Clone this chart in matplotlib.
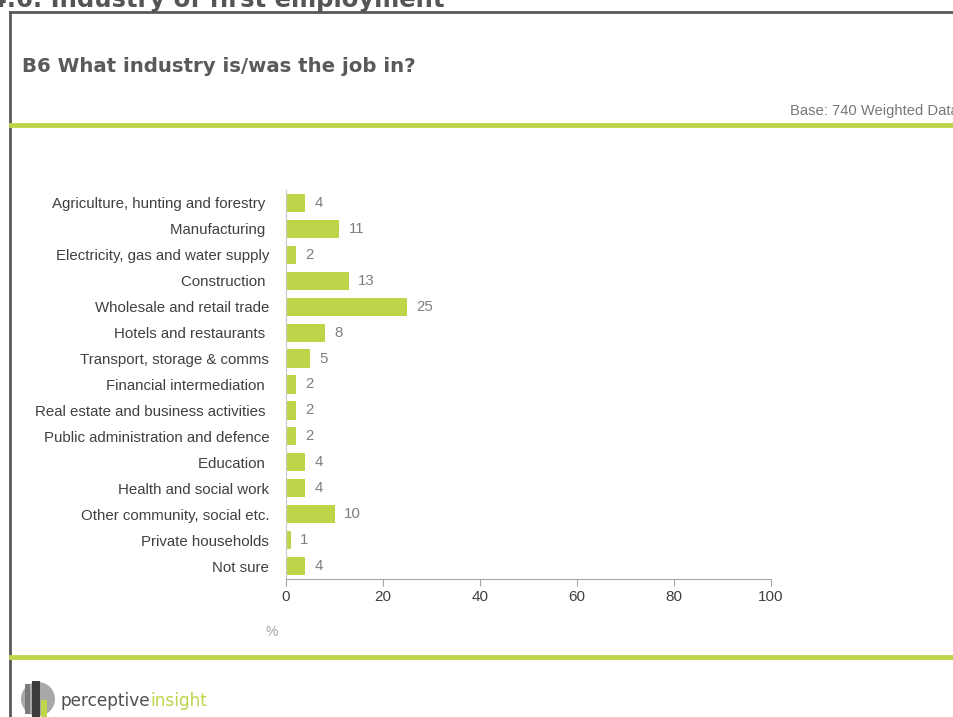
#industry of first employment - horizontal bar chart

import matplotlib.pyplot as plt
from matplotlib.patches import Ellipse, Rectangle
from matplotlib.lines import Line2D

#----------------------------------------------------------------------------------

industries = [
    "Agriculture, hunting and forestry ",
    "Manufacturing ",
    "Electricity, gas and water supply",
    "Construction ",
    "Wholesale and retail trade",
    "Hotels and restaurants ",
    "Transport, storage & comms",
    "Financial intermediation ",
    "Real estate and business activities ",
    "Public administration and defence",
    "Education ",
    "Health and social work",
    "Other community, social etc.",
    "Private households",
    "Not sure",
]
percent = [4, 11, 2, 13, 25, 8, 5, 2, 2, 2, 4, 4, 10, 1, 4]
x_ticks = [0, 20, 40, 60, 80, 100]

green = "#bdd549"
W, H = 954, 717

#pixel helpers (x from left, y from top)
def fx(px):
    return px / W

def fy(py):
    return 1 - py / H

#----------------------------------------------------------------------------------

fig = plt.figure(figsize=(W / 100, H / 100), dpi=100)
fig.patch.set_facecolor("white")

#page heading, cut off at the top edge
fig.text(fx(-10), fy(7), "4.6. Industry of first employment", fontsize=17.5, fontweight="bold",
         color="#555555", ha="left", va="baseline", family="DejaVu Sans")

#frame lines
fig.add_artist(Line2D([fx(10), fx(10)], [fy(12), fy(717)], color="#595959", lw=2))
fig.add_artist(Line2D([fx(10), fx(954)], [fy(12), fy(12)], color="#595959", lw=2))
fig.add_artist(Line2D([fx(11), fx(954)], [fy(125), fy(125)], color=green, lw=3.5))
fig.add_artist(Line2D([fx(11), fx(954)], [fy(657), fy(657)], color=green, lw=3.5))

fig.text(fx(22), fy(66), "B6 What industry is/was the job in?", fontsize=14.2, fontweight="bold",
         color="#5a5a5a", ha="left", va="center", family="DejaVu Sans")
fig.text(fx(790), fy(111), "Base: 740 Weighted Data", fontsize=10.6, color="#777777",
         ha="left", va="center", family="Liberation Sans")

#----------------------------------------------------------------------------------

ax = fig.add_axes([fx(286), fy(579), fx(771) - fx(286), (579 - 190) / H])
y_pos = list(range(len(industries)))
ax.barh(y_pos, percent, height=0.7, color=green, edgecolor="none")
ax.set_ylim(len(industries) - 0.5, -0.5)
ax.set_xlim(0, 100)
ax.set_yticks(y_pos)
ax.set_yticklabels(industries, fontsize=10.8, color="#404040", family="Liberation Sans")
ax.set_xticks(x_ticks)
ax.set_xticklabels([str(t) for t in x_ticks], fontsize=11, color="#404040", family="Liberation Sans")
ax.tick_params(axis="y", length=0, pad=12)
ax.tick_params(axis="x", length=5, color="#a6a6a6", pad=3)

for s in ["top", "right"]:
    ax.spines[s].set_visible(False)
ax.spines["left"].set_color("#c8c8c8")
ax.spines["bottom"].set_color("#a6a6a6")

for i, v in enumerate(percent):
    ax.text(v + 1.9, i, str(v), va="center", ha="left", fontsize=10.8, color="#7f7f7f",
            family="Liberation Sans")

fig.text(fx(272), fy(632), "%", fontsize=10, color="#a6a6a6", ha="center", va="center",
         family="Liberation Sans")

#----------------------------------------------------------------------------------

#logo
fig.add_artist(Ellipse((fx(38), fy(699)), 34 / W, 34 / H, transform=fig.transFigure,
                       facecolor="#a8a8a8", edgecolor="none"))
fig.add_artist(Rectangle((fx(25), fy(714)), 5 / W, 30 / H, transform=fig.transFigure,
                         facecolor="#7a7a7a", edgecolor="none"))
fig.add_artist(Rectangle((fx(32), fy(717)), 8 / W, 36 / H, transform=fig.transFigure,
                         facecolor="#3c3c3c", edgecolor="none"))
fig.add_artist(Rectangle((fx(41), fy(717)), 6 / W, 17 / H, transform=fig.transFigure,
                         facecolor=green, edgecolor="none"))
t1 = fig.text(fx(61), fy(701), "perceptive", fontsize=12.2, color="#505050", ha="left",
              va="center", family="DejaVu Sans")
fig.canvas.draw()
bb = t1.get_window_extent()
fig.text(bb.x1 / W, fy(701), "insight", fontsize=12.2, color=green, ha="left",
         va="center", family="DejaVu Sans")

fig.savefig("out.png", dpi=100)
